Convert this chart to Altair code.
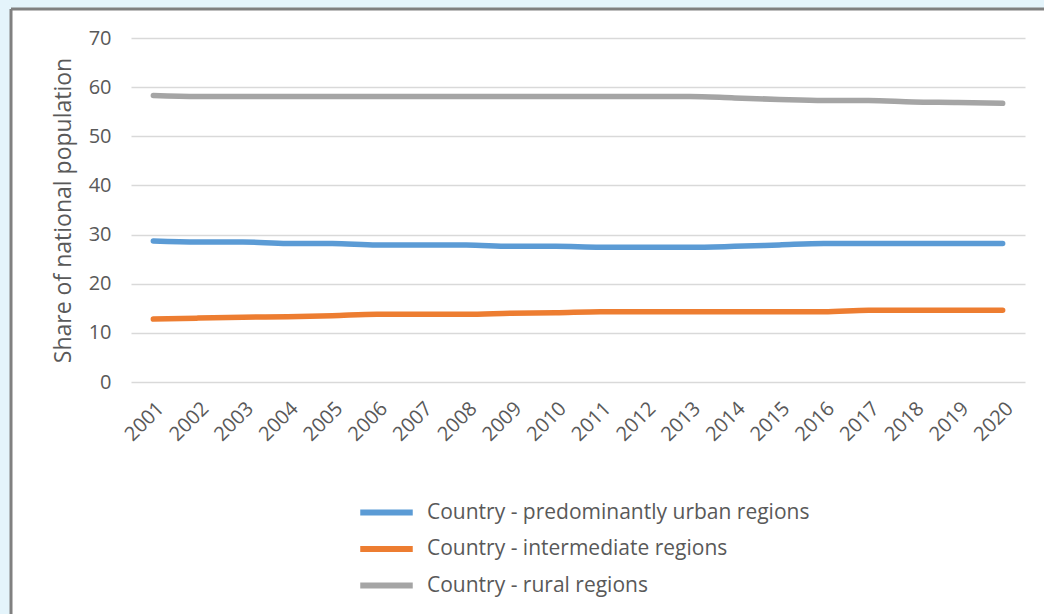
import altair as alt
import pandas as pd

years = [str(y) for y in range(2001, 2021)]
urban = [28.7, 28.5, 28.5, 28.2, 28.2, 27.9, 27.9, 27.9, 27.6, 27.6,
         27.4, 27.4, 27.4, 27.6, 27.9, 28.2, 28.2, 28.2, 28.2, 28.2]
intermediate = [12.8, 13.0, 13.2, 13.3, 13.5, 13.8, 13.8, 13.8, 14.0, 14.1,
                14.3, 14.3, 14.3, 14.3, 14.3, 14.3, 14.6, 14.6, 14.6, 14.6]
rural = [58.3, 58.1, 58.1, 58.1, 58.1, 58.1, 58.1, 58.1, 58.1, 58.1,
         58.1, 58.1, 58.1, 57.8, 57.5, 57.3, 57.3, 57.0, 56.9, 56.7]
series_names = ["Country - predominantly urban regions",
                "Country - intermediate regions",
                "Country - rural regions"]
series_colors = ["#5B9BD5", "#ED7D31", "#A5A5A5"]

rows = []
for name, vals in zip(series_names, [urban, intermediate, rural]):
    for y, v in zip(years, vals):
        rows.append({"Year": y, "Series": name, "Value": v})
df = pd.DataFrame(rows)

FONT = "Open Sans"
GREY = "#595959"
BG = "#E4F4FB"

one = pd.DataFrame({"a": [0]})
# light blue strips outside the chart frame (top and left)
strip_top = alt.Chart(one).mark_rect(fill=BG).encode(
    x=alt.value(-131), x2=alt.value(913), y=alt.value(-38), y2=alt.value(-29))
strip_left = alt.Chart(one).mark_rect(fill=BG).encode(
    x=alt.value(-131), x2=alt.value(-120), y=alt.value(-38), y2=alt.value(576))
border_top = alt.Chart(one).mark_rule(stroke="#808080", strokeWidth=3).encode(
    x=alt.value(-120), x2=alt.value(913), y=alt.value(-29))
border_left = alt.Chart(one).mark_rule(stroke="#808080", strokeWidth=3).encode(
    x=alt.value(-120), y=alt.value(-29), y2=alt.value(576))

lines = alt.Chart(df).mark_line(strokeWidth=5.5, interpolate="monotone", strokeCap="round").encode(
    x=alt.X("Year:O", scale=alt.Scale(type="point", padding=0.5),
            axis=alt.Axis(title=None, labelAngle=-45, labelFontSize=20, labelColor=GREY,
                          labelFont=FONT, ticks=False, domain=False, labelPadding=16)),
    y=alt.Y("Value:Q", scale=alt.Scale(domain=[0, 70], nice=False),
            axis=alt.Axis(title="Share of national population", values=list(range(0, 71, 10)),
                          titleFontSize=23, titleFont=FONT, titleColor=GREY, titleFontWeight="normal",
                          titlePadding=13,
                          labelFontSize=20, labelFont=FONT, labelColor=GREY,
                          ticks=False, domain=False, labelPadding=20,
                          gridColor="#D9D9D9", gridWidth=1.5)),
    color=alt.Color("Series:N", sort=series_names,
                    scale=alt.Scale(domain=series_names, range=series_colors),
                    legend=alt.Legend(title=None, orient="none", legendX=235, legendY=454,
                                      symbolType="M-1.5,0H1.5", symbolSize=1225, symbolStrokeWidth=6,
                                      symbolFillColor="transparent",
                                      labelFontSize=21, labelFont=FONT, labelColor=GREY,
                                      rowPadding=3.5, labelOffset=20, labelLimit=600)),
    order=alt.Order("Year:O")
)

chart = alt.layer(strip_top, strip_left, border_top, border_left, lines).properties(
    width=894, height=344,
    autosize=alt.AutoSizeParams(type="none"),
    padding={"left": 131, "top": 38, "right": 19, "bottom": 232},
    background="white"
).configure_view(stroke=None)

chart.save("out.html", embed_options={"renderer": "svg", "actions": False})
